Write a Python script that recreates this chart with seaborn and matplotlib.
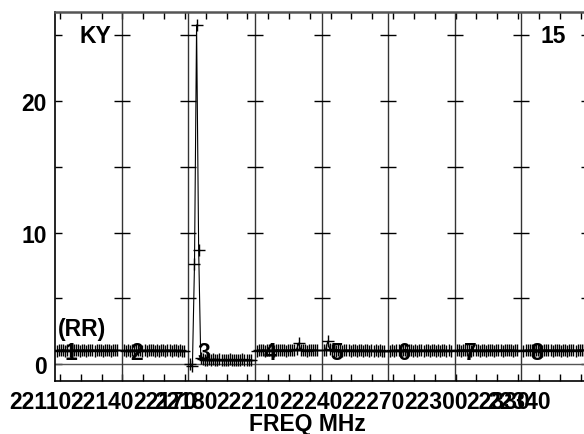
import numpy as np
import pandas as pd
import seaborn as sns
import matplotlib.pyplot as plt
from matplotlib import transforms

# IF bands (MHz) and amplitudes per channel (1 MHz channels)
if_start = [22107.6, 22139.6, 22171.6, 22203.6, 22235.6, 22267.6, 22299.6, 22331.6]
if_width = 32.0
if_names = ['1', '2', '3', '4', '5', '6', '7', '8']

amp_if1 = [1.02, 1.08, 1.05, 1.10, 1.04, 1.07, 1.03, 1.09, 1.06, 1.05, 1.08, 1.04, 1.06, 1.10, 1.03,
           1.07, 1.05, 1.08, 1.04, 1.06, 1.09, 1.05, 1.03, 1.07, 1.06, 1.08, 1.04, 1.05, 1.07, 1.06]
amp_if2 = [1.05, 1.03, 1.07, 1.04, 1.08, 1.02, 1.06, 1.05, 1.09, 1.04, 1.06, 1.03, 1.07, 1.05, 1.08,
           1.04, 1.06, 1.02, 1.07, 1.05, 1.03, 1.08, 1.06, 1.04, 1.05, 1.07, 1.03, 1.06, 1.04, 1.02]
amp_if3 = [0.05, -0.15, 7.6, 25.8, 8.7, 0.45, 0.38, 0.35, 0.33, 0.36, 0.31, 0.37, 0.34, 0.32, 0.36,
           0.33, 0.35, 0.30, 0.34, 0.36, 0.32, 0.35, 0.33, 0.31, 0.34, 0.36, 0.32, 0.35, 0.33, 0.34]
amp_if4 = [1.04, 1.07, 1.05, 1.09, 1.03, 1.06, 1.08, 1.05, 1.04, 1.07, 1.10, 1.05, 1.06, 1.08, 1.04,
           1.07, 1.05, 1.09, 1.06, 1.12, 1.60, 1.10, 1.05, 1.07, 1.04, 1.06, 1.08, 1.05, 1.07, 1.06]
amp_if5 = [1.06, 1.10, 1.75, 1.12, 1.05, 1.08, 1.04, 1.06, 1.07, 1.03, 1.05, 1.08, 1.06, 1.04, 1.07,
           1.05, 1.03, 1.06, 1.08, 1.04, 1.05, 1.07, 1.03, 1.06, 1.04, 1.05, 1.02, 1.06, 1.04, 1.03]
amp_if6 = [1.03, 1.06, 1.04, 1.07, 1.05, 1.02, 1.06, 1.08, 1.04, 1.05, 1.07, 1.03, 1.06, 1.04, 1.05,
           1.08, 1.03, 1.06, 1.05, 1.04, 1.07, 1.05, 1.03, 1.06, 1.04, 1.08, 1.05, 1.03, 1.06, 1.04]
amp_if7 = [1.05, 1.08, 1.04, 1.06, 1.09, 1.05, 1.07, 1.04, 1.06, 1.08, 1.05, 1.03, 1.07, 1.06, 1.04,
           1.08, 1.05, 1.07, 1.04, 1.06, 1.05, 1.09, 1.04, 1.06, 1.07, 1.05, 1.08, 1.04, 1.06, 1.05]
amp_if8 = [1.04, 1.07, 1.05, 1.08, 1.06, 1.03, 1.07, 1.05, 1.09, 1.04, 1.06, 1.08, 1.05, 1.07, 1.04,
           1.06, 1.08, 1.05, 1.03, 1.07, 1.06, 1.04, 1.08, 1.05, 1.07, 1.04, 1.06, 1.09, 1.05, 1.07]
amps = [amp_if1, amp_if2, amp_if3, amp_if4, amp_if5, amp_if6, amp_if7, amp_if8]

freq_labels = [22110, 22140, 22170, 22180, 22210, 22240, 22270, 22300, 22330, 22340]
y_ticks = [0, 5, 10, 15, 20, 25]
y_labels = ['0', '', '10', '', '20', '']

rows = []
for i, (f0, a) in enumerate(zip(if_start, amps)):
    for k, v in enumerate(a):
        rows.append({'IF': i, 'freq': f0 + 1.0 + k, 'amp': v})
df = pd.DataFrame(rows)

sns.set_style("ticks")
plt.rcParams['font.family'] = ['Liberation Sans', 'DejaVu Sans']
plt.rcParams['font.weight'] = 'bold'
plt.rcParams['text.color'] = 'black'
plt.rcParams['xtick.labelcolor'] = 'black'
plt.rcParams['ytick.labelcolor'] = 'black'

fig = plt.figure(figsize=(5.84, 4.35), dpi=100)
ax = fig.add_axes([55 / 584, 53.5 / 435, 533 / 584, 368.2 / 435])

ax.axhline(0, color='#555555', lw=1, zorder=1)

sns.lineplot(data=df, x='freq', y='amp', units='IF', estimator=None, sort=False,
             color='black', lw=0.8, marker='+', markersize=8.5,
             markeredgewidth=1, markeredgecolor='black', legend=False, ax=ax)

x0 = if_start[0]
x1 = if_start[-1] + if_width
ax.set_xlim(x0, x1)
ax.set_ylim(-1.24, 26.76)

# IF dividers with crosses at y ticks
for f0 in if_start[1:]:
    ax.axvline(f0, color='#333333', lw=1, zorder=1)
    ax.plot([f0] * len(y_ticks[1:]), y_ticks[1:], ls='none', marker='_', ms=11,
            mew=1, color='black', zorder=2)

# x ticks every 10 MHz, labels only at some
xt = np.arange(22110, 22370, 10)
ax.set_xticks(xt)
ax.set_xticklabels([str(v) if v in freq_labels else '' for v in xt])
ax.set_yticks(y_ticks)
ax.set_yticklabels(y_labels)
ax.tick_params(axis='both', direction='in', length=5, width=1, color='black',
               labelsize=16.5, top=True, right=True)
ax.tick_params(axis='x', pad=7)
ax.tick_params(axis='y', pad=6)
offset = transforms.ScaledTranslation(-0.20, 0, fig.dpi_scale_trans)
for lab in ax.get_xticklabels():
    lab.set_transform(lab.get_transform() + offset)
    lab.set_fontweight('bold')
for lab in ax.get_yticklabels():
    lab.set_fontweight('bold')

for side in ['left', 'bottom', 'top', 'right']:
    ax.spines[side].set_color('black')
    ax.spines[side].set_linewidth(1.2)
ax.spines['top'].set_color('#555555')
ax.spines['top'].set_linewidth(1.8)

ax.set_xlabel('')
ax.set_ylabel('')

# panel numbers
for f0, name in zip(if_start, if_names):
    ax.text(f0 + 7.4, 0.9, name, ha='center', va='center', fontsize=16.5,
            fontweight='bold', color='black', zorder=3)

ax.text(0.075, 0.936, 'KY', transform=ax.transAxes, ha='center', va='center',
        fontsize=16.5, fontweight='bold')
ax.text(0.934, 0.936, '15', transform=ax.transAxes, ha='center', va='center',
        fontsize=16.5, fontweight='bold')
ax.text(0.051, 0.14, '(RR)', transform=ax.transAxes, ha='center', va='center',
        fontsize=16.5, fontweight='bold')
fig.text(307 / 584, 10 / 435, 'FREQ MHz', ha='center', va='center',
         fontsize=16.5, fontweight='bold')

fig.savefig('out.png', dpi=100)
